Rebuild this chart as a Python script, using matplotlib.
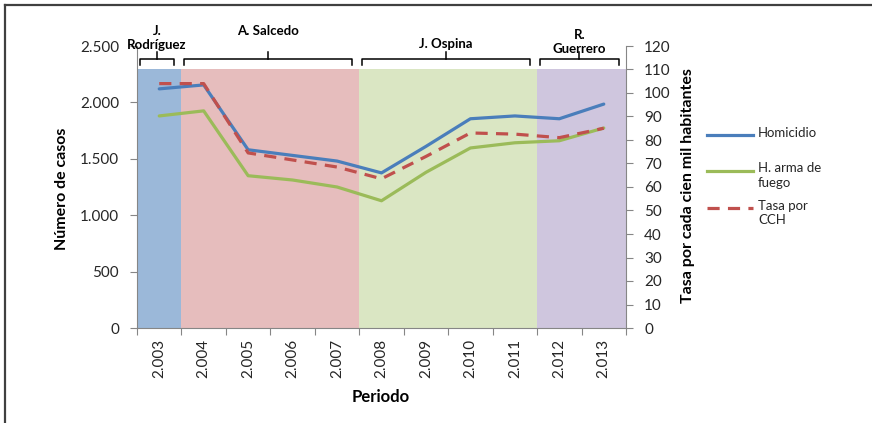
import matplotlib.pyplot as plt
from matplotlib.lines import Line2D
from matplotlib.ticker import FuncFormatter
from matplotlib.transforms import blended_transform_factory

plt.rcParams['font.family'] = ['Lato', 'DejaVu Sans']

# datos
years = ['2.003', '2.004', '2.005', '2.006', '2.007', '2.008',
         '2.009', '2.010', '2.011', '2.012', '2.013']
homicidio = [2120, 2155, 1580, 1530, 1480, 1375, 1610, 1855, 1880, 1855, 1985]
arma_fuego = [1880, 1925, 1350, 1312, 1250, 1128, 1380, 1596, 1642, 1660, 1773]
tasa_cch = [104, 104, 74.5, 71.5, 68.5, 63.5, 73, 83, 82.5, 81, 85]

# periodos de gobierno (indice inicial, indice final)
periods = ['J.\nRodríguez', 'A. Salcedo', 'J. Ospina', 'R.\nGuerrero']
period_start = [0, 1, 5, 9]
period_end = [0, 4, 8, 10]
period_colors = ['#9BB8D9', '#E6BDBD', '#DAE6C3', '#CFC6DE']
label_ypx = [38, 31, 44, 42]  # centro vertical de cada etiqueta, en pixeles desde arriba

fig = plt.figure(figsize=(8.72, 4.23), dpi=100)
ax = fig.add_axes([137 / 872, 1 - 328 / 423, 489 / 872, 282 / 423])
ax2 = ax.twinx()

x = list(range(len(years)))

# fondos por periodo
for s, e, c in zip(period_start, period_end, period_colors):
    ax.axvspan(s - 0.5, e + 0.5, ymin=0, ymax=110 / 120, color=c, lw=0, zorder=0)

ax.plot(x, homicidio, color='#4A7EBB', lw=2.3, zorder=3, solid_capstyle='round')
ax.plot(x, arma_fuego, color='#9BBB59', lw=2.3, zorder=3, solid_capstyle='round')
ax2.plot(x, tasa_cch, color='#C0504D', lw=2.3, dashes=(3.8, 2.6), zorder=3)

ax.set_xlim(-0.5, len(years) - 0.5)
ax.set_ylim(0, 2500)
ax2.set_ylim(0, 120)
ax.set_yticks(range(0, 2501, 500))
ax2.set_yticks(range(0, 121, 10))
ax.yaxis.set_major_formatter(FuncFormatter(lambda v, p: f'{int(v):,}'.replace(',', '.')))

# ticks de categoria entre años, etiquetas al centro
ax.set_xticks([i - 0.5 for i in range(len(years) + 1)])
ax.set_xticklabels([])
ax.set_xticks(x, minor=True)
ax.set_xticklabels(years, minor=True, rotation=90)
ax.tick_params(axis='x', which='major', length=5, color='#868686')
ax.tick_params(axis='x', which='minor', length=0, pad=8, labelsize=11, labelcolor='#262626')
ax.tick_params(axis='y', length=5, color='#868686', labelsize=11, labelcolor='#262626', pad=8)
ax2.tick_params(axis='y', length=5, color='#868686', labelsize=11, labelcolor='#262626', pad=8)

for a in (ax, ax2):
    a.spines['top'].set_visible(False)
    for side in ('left', 'right', 'bottom'):
        a.spines[side].set_color('#868686')
ax2.spines['left'].set_visible(False)
ax2.spines['bottom'].set_visible(False)
ax.spines['right'].set_visible(False)

# llaves de periodo sobre el grafico
tr = blended_transform_factory(ax.transData, fig.transFigure)
for name, s, e, ly in zip(periods, period_start, period_end, label_ypx):
    x0, x1 = s - 0.5 + 0.06, e + 0.5 - 0.16
    xm = (x0 + x1) / 2
    y_h, y_end, y_tip = 2385, 2330, 2445
    ax.plot([x0, x0, x1, x1], [y_end, y_h, y_h, y_end], color='black', lw=1.1,
            clip_on=False, zorder=5)
    ax.plot([xm, xm], [y_h, y_tip], color='black', lw=1.1, clip_on=False, zorder=5)
    ax.text(xm, 1 - ly / 423, name, transform=tr, ha='center', va='center',
            fontsize=9.5, fontweight='bold', linespacing=1.25, clip_on=False, zorder=6)

fig.text(381 / 872, 1 - 397 / 423, 'Periodo', ha='center', va='center',
         fontsize=12, fontweight='bold')
fig.text(62 / 872, 1 - 189 / 423, 'Número de casos', ha='center', va='center',
         rotation=90, fontsize=11.5, fontweight='bold')
fig.text(688 / 872, 1 - 186 / 423, 'Tasa por cada cien mil habitantes', ha='center',
         va='center', rotation=90, fontsize=11.5, fontweight='bold')

# leyenda
legend_items = [('Homicidio', '#4A7EBB', None, 135),
                ('H. arma de\nfuego', '#9BBB59', None, 171),
                ('Tasa por\nCCH', '#C0504D', (3.8, 2.6), 208)]
for label, color, dash, ypx in legend_items:
    yf = 1 - ypx / 423
    ln = Line2D([707 / 872, 753 / 872], [yf, yf], color=color, lw=2.3,
                transform=fig.transFigure)
    if dash:
        ln.set_dashes(dash)
    fig.add_artist(ln)
    fig.text(758 / 872, 1 - (ypx - 8.5) / 423, label, ha='left', va='top',
             fontsize=9.5, color='#262626', linespacing=1.25)

# marco
fig.add_artist(Line2D([4.5 / 872, 4.5 / 872], [0, 1 - 5 / 423], color='#404040', lw=1.6,
                      transform=fig.transFigure))
fig.add_artist(Line2D([4.5 / 872, 1], [1 - 5 / 423, 1 - 5 / 423], color='#404040', lw=1.6,
                      transform=fig.transFigure))

fig.savefig('out.png', dpi=100)
